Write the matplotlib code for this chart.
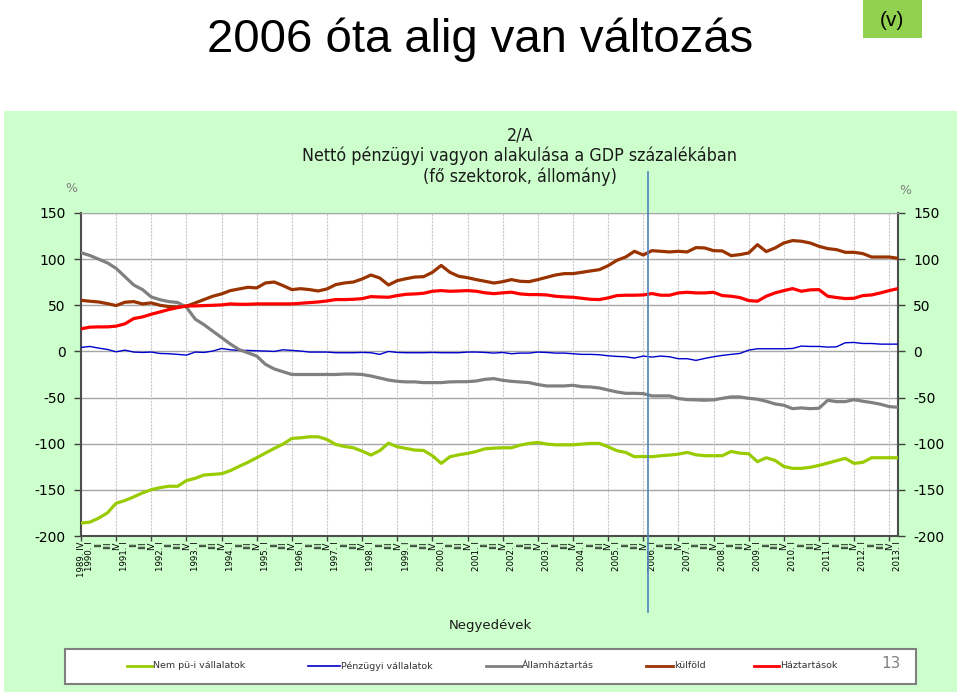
import matplotlib.pyplot as plt
from matplotlib.patches import Rectangle
from matplotlib.lines import Line2D
import matplotlib.transforms as mtransforms

plt.rcParams['font.family'] = 'DejaVu Sans'
plt.rcParams['axes.unicode_minus'] = False

# quarterly categories, 1989.IV - 2013.I
quarters = (['1989. IV']
            + [f'{y}. I' if q == 'I' else q for y in range(1990, 2013) for q in ['I', 'II', 'III', 'IV']]
            + ['2013. I'])

nem_pu = [-186, -185, -180.7, -175, -164.5, -161.6, -157.6, -153.3, -149.8, -147.6,
          -146.1, -146.1, -140, -137.5, -133.9, -133.2, -132.5, -129.2, -124.5, -120.2,
          -115.2, -110.1, -105.1, -100.4, -94.3, -93.6, -92.5, -92.5, -95.4, -100.8,
          -103, -104.4, -108, -112.3, -107.6, -99.4, -103.3, -105.1, -106.9, -107.3,
          -113, -121.3, -114.1, -112, -110.5, -108.4, -105.5, -104.8, -104.4, -104.4,
          -101.5, -99.7, -98.6, -100.4, -101.2, -101.2, -101.2, -100.4, -99.7, -99.7,
          -103.3, -107.6, -109.4, -114.1, -113.8, -114.1, -113, -112.3, -111.3, -109.4,
          -112, -113, -113, -113, -108.4, -110.2, -110.9, -119.5, -115.2, -118.1,
          -124.6, -126.7, -126.7, -125.6, -123.5, -121, -118.4, -115.9, -121.3, -120.2,
          -115.2, -115.2, -115.2, -115.2]

penzugyi = [4.3, 5.4, 3.6, 2.2, -0.4, 1.4, -0.7, -1.1, -0.7, -2.2,
            -2.5, -3.2, -4, -0.7, -1.1, 0.4, 3.2, 1.8, 1.1, 1.1,
            0.7, 0.4, 0, 1.8, 1.1, 0.4, -0.7, -0.7, -0.7, -1.4,
            -1.4, -1.4, -1.1, -1.4, -3.2, 0, -1.1, -1.4, -1.4, -1.4,
            -1.1, -1.4, -1.4, -1.4, -0.7, -0.7, -1.1, -1.8, -1.1, -2.5,
            -1.8, -1.8, -0.7, -1.1, -1.8, -1.8, -2.5, -3.2, -3.2, -3.6,
            -4.7, -5.4, -5.8, -7.2, -5.0, -6.1, -5.0, -5.8, -7.9, -7.9,
            -9.7, -7.6, -5.8, -4.3, -3.2, -2.2, 1.4, 2.9, 2.9, 2.9,
            2.9, 3.2, 5.8, 5.4, 5.4, 4.7, 5.0, 9.4, 9.7, 8.6,
            8.6, 7.9, 7.9, 7.9]

allamhaztartas = [107, 104, 100, 96, 90, 81, 72, 67, 59, 56,
                  54, 53, 48, 35, 29, 22, 15, 8, 2, -1.5,
                  -5, -14, -19, -22, -25, -25, -25, -25, -25, -25,
                  -24.5, -24.5, -25, -26.6, -28.8, -31, -32.4, -33, -33, -33.8,
                  -33.8, -33.8, -33, -32.8, -32.8, -32, -30.2, -29.5, -31.3, -32.4,
                  -33.1, -33.8, -35.9, -37.4, -37.4, -37.4, -36.7, -38.2, -38.5, -39.6,
                  -41.8, -43.9, -45.4, -45.4, -45.7, -48.2, -48.2, -48.2, -51.1, -52.2,
                  -52.5, -52.9, -52.5, -50.8, -49.3, -49.3, -50.8, -51.8, -54, -56.9,
                  -58.3, -62, -61.2, -62, -61.6, -52.9, -54.4, -54.4, -52.2, -54,
                  -55.4, -57.2, -59.8, -60.5]

kulfold = [55.4, 54.4, 53.6, 51.8, 49.7, 53.3, 54, 51.5, 52.6, 50,
           48.6, 48.2, 49, 52.6, 56.2, 59.8, 62.3, 65.9, 67.7, 69.5,
           68.8, 74.2, 75.2, 71.3, 67, 68, 67, 65.5, 67.7, 72.4,
           74.2, 75.2, 78.5, 82.8, 79.6, 72, 76.7, 78.8, 80.6, 81,
           85.7, 93.2, 85.7, 81.4, 79.9, 77.8, 76, 74.1, 75.6, 77.8,
           76, 75.6, 77.8, 80.3, 82.8, 84.3, 84.3, 85.7, 87.2, 88.6,
           92.9, 98.7, 102.3, 108.5, 104.5, 109.2, 108.5, 107.8, 108.5, 107.8,
           112.5, 112.1, 109.2, 108.9, 103.8, 104.9, 106.7, 115.7, 108.2, 112.1,
           117.5, 120.1, 119.4, 117.5, 113.9, 111.4, 110.3, 107.4, 107.4, 106,
           102.3, 102.3, 102.3, 100.9]

haztartasok = [24.5, 26.3, 26.6, 26.6, 27.4, 29.9, 35.6, 37.4, 40.3, 42.8,
               45.4, 47.5, 49.3, 49.3, 49.7, 50, 50.4, 51.5, 51.1, 51.1,
               51.5, 51.5, 51.5, 51.5, 51.5, 52.2, 52.9, 53.6, 54.7, 56.2,
               56.2, 56.5, 57.2, 59.4, 59, 58.7, 60.5, 61.9, 62.3, 63,
               65.2, 65.9, 65.2, 65.5, 65.9, 65.2, 63.5, 62.6, 63.5, 64.2,
               62.3, 61.6, 61.6, 61.2, 59.8, 59.1, 58.7, 57.6, 56.5, 56.2,
               58, 60.5, 60.9, 60.9, 61.2, 62.7, 60.9, 60.9, 63.4, 64.1,
               63.4, 63.4, 64.1, 60.5, 59.8, 58.4, 55.1, 54.4, 59.8, 63.4,
               65.9, 68.1, 65.2, 66.7, 67, 59.8, 58.4, 57.3, 57.6, 60.5,
               61.2, 63.4, 65.9, 68.1]

series_names = ['Nem pü-i vállalatok', 'Pénzügyi vállalatok', 'Államháztartás', 'külföld', 'Háztartások']
series_values = [nem_pu, penzugyi, allamhaztartas, kulfold, haztartasok]
colors = ['#99CC00', '#0000CC', '#808080', '#993300', '#FF0000']
widths = [2.3, 1.0, 2.3, 2.3, 2.3]


def fx(px):
    return px / 960


def fy(px):
    return 1 - px / 696


fig = plt.figure(figsize=(9.6, 6.96), dpi=100)

# light green slide panel (behind the axes)
fig.patches.append(Rectangle((fx(4), fy(692)), 953 / 960, 581 / 696, transform=fig.transFigure,
                             facecolor='#CCFFCC', edgecolor='none', zorder=-2))

# slide title and (v) box
fig.text(0.5, fy(52), '2006 óta alig van változás', ha='center', va='baseline',
         fontsize=34, family='Liberation Sans')
fig.patches.append(Rectangle((fx(863), fy(38)), 59 / 960, 38 / 696, transform=fig.transFigure,
                             facecolor='#92D050', edgecolor='none', zorder=-1))
fig.text(fx(892), fy(20), '(v)', ha='center', va='center', fontsize=15, family='Liberation Sans')

ax = fig.add_axes([fx(81), fy(536), (898 - 81) / 960, (536 - 213) / 696])
ax.set_facecolor('white')
ax.set_axisbelow(True)

x = list(range(len(quarters)))
for vals, name, c, w in zip(series_values, series_names, colors, widths):
    ax.plot(x, vals, color=c, lw=w, label=name, solid_joinstyle='round', zorder=3)

ax.set_xlim(0, len(quarters) - 1)
ax.set_ylim(-200, 150)
ax.set_yticks(range(-200, 151, 50))
ax.set_xticks(x)
ax.set_xticklabels(quarters, rotation=90, fontsize=6.2, color='black')
ax.tick_params(axis='x', which='major', length=0, pad=4)
ax.grid(axis='y', which='major', color='#A6A6A6', lw=1)
ax.tick_params(axis='y', left=True, right=True, labelleft=True, labelright=True,
               length=5, width=1, color='#404040', labelsize=10, pad=6)
for side in ['left', 'right', 'bottom']:
    ax.spines[side].set_color('#4D4D4D')
    ax.spines[side].set_linewidth(1.5)
ax.spines['top'].set_color('#A6A6A6')

# yearly vertical gridlines with small tick marks below the axis
trans = mtransforms.blended_transform_factory(ax.transData, ax.transAxes)
year_pos = x[::4]
ax.vlines(year_pos, 0, 1, transform=trans, color='#C8C8C8', lw=0.8, linestyles=(0, (2, 1)), zorder=1)
ax.vlines(year_pos, -0.014, 0, transform=trans, color='#404040', lw=1, clip_on=False, zorder=1)

# vertical marker at 2006
split = quarters.index('2006. I') - 0.5
ax.add_line(Line2D([split, split], [1.127, -0.235], transform=trans, color='#4F81BD',
                   lw=1.2, clip_on=False, zorder=4))

# chart title
for yy, line in zip([135, 156, 177], ['2/A', 'Nettó pénzügyi vagyon alakulása a GDP százalékában',
                                       '(fő szektorok, állomány)']):
    fig.text(fx(520), fy(yy), line, ha='center', va='center', fontsize=12.8,
             fontstretch='condensed', color='#1a1a1a')

fig.text(fx(71), fy(188), '%', ha='center', va='center', fontsize=9, color='#808080')
fig.text(fx(905), fy(190), '%', ha='center', va='center', fontsize=9, color='#808080')
fig.text(fx(490), fy(625), 'Negyedévek', ha='center', va='center', fontsize=9.5, color='#1a1a1a')

# legend box
fig.patches.append(Rectangle((fx(65), fy(684)), 851 / 960, 35 / 696, transform=fig.transFigure,
                             facecolor='white', edgecolor='#808080', lw=1.5))
leg_start = [127, 308, 486, 646, 754]
leg_end = [152, 340, 521, 673, 779]
for s, e, name, c in zip(leg_start, leg_end, series_names, colors):
    fig.add_artist(Line2D([fx(s), fx(e)], [fy(666), fy(666)], transform=fig.transFigure,
                          color=c, lw=2 if c != '#0000CC' else 1.2))
    fig.text(fx(e + 1), fy(666), name, ha='left', va='center', fontsize=6.8, color='#333333')
fig.text(fx(891), fy(663), '13', ha='center', va='center', fontsize=11, color='#7F7F7F')

plt.savefig('out.png', dpi=100)
